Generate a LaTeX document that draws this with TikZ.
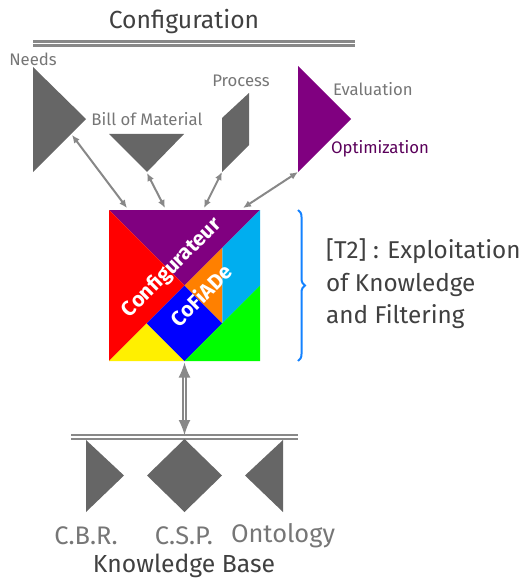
\documentclass[tikz,border=0pt]{standalone}
\usepackage{fontspec}
\setmainfont{Fira Sans}
\usepackage{tikz}
\usetikzlibrary{arrows.meta,positioning,calc,decorations.pathreplacing}
\definecolor{darkgrey}{RGB}{102,102,102}
\definecolor{midgrey}{RGB}{136,136,136}
\definecolor{txtgrey}{RGB}{118,118,118}
\definecolor{txtdark}{RGB}{64,64,64}
\definecolor{plum}{RGB}{128,0,128}
\definecolor{tanorange}{RGB}{255,128,0}
\definecolor{tancyan}{RGB}{0,174,239}
\definecolor{tanyellow}{RGB}{255,240,0}
\definecolor{braceblue}{RGB}{20,130,255}

\begin{document}
\begin{tikzpicture}[x=1bp, y=-1bp,
    piece/.style={fill=darkgrey, draw=none},
    bar/.style={draw=midgrey, double=white, double distance=1.3bp, line width=2.4bp},
    link/.style={{Latex[length=8bp,width=7bp]}-{Latex[length=8bp,width=7bp]}, draw=midgrey, line width=2bp},
    small/.style={text=txtgrey, font=\fontsize{16.8}{17}\selectfont},
    big/.style={text=txtgrey, font=\fontsize{25.5}{26}\selectfont},
    title/.style={text=txtdark, font=\fontsize{24.8}{25}\selectfont},
    remark/.style={text=txtdark, anchor=west, inner sep=0pt, font=\fontsize{24.4}{25}\selectfont},
    logo/.style={text=white, rotate=45, font=\bfseries\fontsize{21}{21}\selectfont}]
    \useasboundingbox (0,0) rectangle (524,582);

    % Configuration
    \node[title] (config) at (184,21.5) {Configuration};
    \coordinate (topleft) at (33,43.5);
    \coordinate (topright) at (355,43.5);
    \draw[bar] (topleft) -- (topright);

    % Configuration parts
    \fill[piece] (33,67) -- (86,119) -- (33,172) -- cycle;
    \fill[piece] (109,134) -- (184,134) -- (147,172) -- cycle;
    \fill[piece] (222,118) -- (249,93) -- (249,145) -- (222,172) -- cycle;
    \fill[plum] (298,66) -- (351,119) -- (298,172) -- cycle;
    \node[small] (needs) at (33,59) {Needs};
    \node[small] (bom) at (147,119) {Bill of Material};
    \node[small] (process) at (241,81) {Process};
    \node[small, anchor=west] (eval) at (329.5,89) {Evaluation};
    \node[small, anchor=west, text=plum!70!black] (optim) at (327.5,148.5) {Optimization};
    \coordinate (needsend) at (72,135);
    \coordinate (bomend) at (147,173);
    \coordinate (processend) at (222,172);
    \coordinate (evalend) at (298,172);

    % Tangram
    \node[minimum size=151bp, inner sep=0pt, outer sep=0pt] (tangram) at (184.5,285.5) {};
    \coordinate (tl) at (tangram.north west);
    \coordinate (tr) at (tangram.north east);
    \coordinate (bl) at (tangram.south west);
    \coordinate (br) at (tangram.south east);
    \coordinate (c) at (tangram.center);
    \coordinate (e) at (tangram.east);
    \coordinate (s) at (tangram.south);
    \coordinate (p) at ($(bl)!.75!(tr)$);
    \coordinate (q) at ($(tl)!.75!(br)$);
    \coordinate (w) at ($(bl)!.25!(tr)$);
    \fill[plum] (tl) -- (tr) -- (c) -- cycle;
    \fill[red] (tl) -- (c) -- (bl) -- cycle;
    \fill[tanyellow] (w) -- (s) -- (bl) -- cycle;
    \fill[blue] (c) -- (q) -- (s) -- (w) -- cycle;
    \fill[tanorange] (c) -- (p) -- (q) -- cycle;
    \fill[tancyan] (tr) -- (e) -- (q) -- (p) -- cycle;
    \fill[green] (e) -- (br) -- (s) -- cycle;
    \node[logo] (configurateur) at (172,268) {Configurateur};
    \node[logo] (cofiade) at (201,295) {CoFiADe};

    % Exploitation
    \coordinate (bracetop) at (298,210);
    \coordinate (bracebot) at (298,361);
    \draw[braceblue, line width=2bp, decorate, decoration={brace, amplitude=7bp}] (bracetop) -- (bracebot);
    \node[remark] (t2a) at (326,251.5) {[T2] : Exploitation};
    \node[remark] (t2b) at (326,284.5) {of Knowledge};
    \node[remark] (t2c) at (326,316.5) {and Filtering};

    % Knowledge base
    \coordinate (botleft) at (71,437);
    \coordinate (botright) at (298,437);
    \coordinate (botmid) at (184.5,435);
    \draw[bar] (botleft) -- (botright);
    \fill[piece] (86,440) -- (124,475.5) -- (86,512) -- cycle;
    \fill[piece] (184.5,439) -- (222,475.5) -- (184.5,512) -- (147,475.5) -- cycle;
    \fill[piece] (283,440) -- (245,475.5) -- (283,512) -- cycle;
    \node[big] (cbr) at (86,536) {C.B.R.};
    \node[big] (csp) at (184,536) {C.S.P.};
    \node[big] (onto) at (283,535.5) {Ontology};
    \node[title] (kb) at (184,565.5) {Knowledge Base};

    % Connections
    \draw[link] (needsend) -- (127,208);
    \draw[link] (bomend) -- (165,208);
    \draw[link] (processend) -- (204,208);
    \draw[link] (evalend) -- (243,208);
    \draw[{Latex[length=15bp,width=12bp]}-{Latex[length=15bp,width=12bp]}, draw=midgrey, line width=1.5bp, double=white, double distance=1.5bp] (tangram.south) ++(0,1.5) -- (botmid);
\end{tikzpicture}
\end{document}
